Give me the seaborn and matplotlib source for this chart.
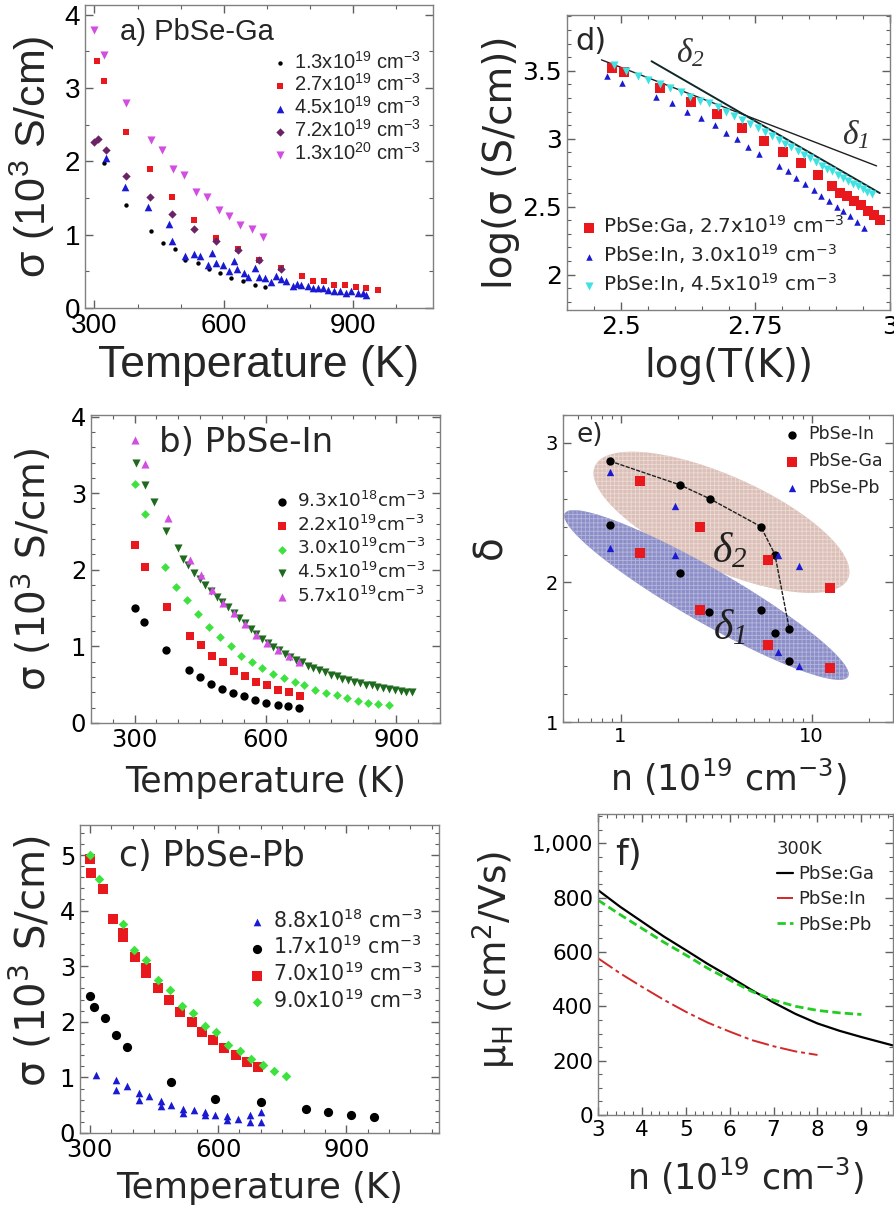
import numpy as np
import matplotlib
matplotlib.use("Agg")
import matplotlib.pyplot as plt
from matplotlib.ticker import MultipleLocator, FuncFormatter, LogLocator, NullFormatter
from matplotlib.lines import Line2D
import seaborn as sns

# ---------------- a) PbSe-Ga : sigma vs T
a_T1 = [322, 374, 432, 459, 486, 511, 540, 565, 592, 617, 644, 672, 696]
a_s1 = [1.97, 1.41, 1.05, 0.89, 0.80, 0.66, 0.62, 0.53, 0.48, 0.41, 0.37, 0.32, 0.29]
a_T2 = [305, 323, 374, 428, 480, 532, 583, 633, 683, 734, 782, 807, 832, 857, 882, 908, 931, 958]
a_s2 = [3.37, 3.09, 2.40, 1.89, 1.51, 1.20, 0.96, 0.80, 0.66, 0.55, 0.43, 0.37, 0.37, 0.32,
        0.31, 0.28, 0.27, 0.25]
a_T3 = [326, 372, 424, 473, 480, 511, 532, 546, 563, 572, 583, 598, 613, 624, 631, 648, 656,
        672, 683, 696, 710, 722, 734, 745, 761, 771, 780, 795, 807, 819, 830, 842, 857, 869,
        884, 895, 911, 923, 931]
a_s3 = [2.05, 1.65, 1.37, 1.14, 0.91, 0.71, 0.73, 0.71, 0.58, 0.75, 0.62, 0.59, 0.51, 0.64,
        0.53, 0.48, 0.42, 0.55, 0.42, 0.41, 0.35, 0.43, 0.39, 0.37, 0.30, 0.33, 0.32, 0.30,
        0.27, 0.27, 0.27, 0.24, 0.23, 0.23, 0.21, 0.23, 0.21, 0.21, 0.18]
a_T4 = [300, 308, 326, 374, 428, 480, 532, 583, 633, 683, 734]
a_s4 = [2.26, 2.31, 2.16, 1.80, 1.51, 1.28, 1.07, 0.91, 0.79, 0.66, 0.53]
a_T5 = [300, 323, 374, 432, 456, 482, 509, 536, 561, 588, 613, 638, 665, 691]
a_s5 = [3.79, 3.45, 2.79, 2.29, 2.16, 1.90, 1.81, 1.58, 1.51, 1.34, 1.26, 1.13, 1.07, 0.97]
a_labels = ["1.3x10$^{19}$ cm$^{-3}$", "2.7x10$^{19}$ cm$^{-3}$", "4.5x10$^{19}$ cm$^{-3}$",
            "7.2x10$^{19}$ cm$^{-3}$", "1.3x10$^{20}$ cm$^{-3}$"]

# ---------------- b) PbSe-In
b_T1 = [302, 321, 371, 424, 451, 476, 501, 526, 551, 577, 602, 628, 652, 677]
b_s1 = [1.50, 1.32, 0.95, 0.69, 0.60, 0.51, 0.44, 0.39, 0.35, 0.30, 0.26, 0.24, 0.22, 0.20]
b_T2 = [302, 323, 374, 428, 453, 478, 503, 528, 553, 579, 604, 629, 654, 679]
b_s2 = [2.32, 2.04, 1.51, 1.13, 1.02, 0.88, 0.80, 0.68, 0.61, 0.53, 0.49, 0.43, 0.40, 0.35]
b_T3 = [302, 323, 369, 394, 421, 445, 471, 496, 520, 543, 568, 593, 618, 643, 667, 689, 713,
        738, 763, 786, 811, 834, 859, 882]
b_s3 = [3.12, 2.73, 2.04, 1.78, 1.60, 1.42, 1.25, 1.12, 1.00, 0.88, 0.80, 0.72, 0.64, 0.59,
        0.53, 0.49, 0.43, 0.39, 0.36, 0.33, 0.29, 0.26, 0.25, 0.23]
b_T4 = [304, 324, 344, 373, 399, 411, 422, 436, 449, 462, 475, 488, 501, 514, 527, 540, 553,
        566, 579, 592, 605, 618, 631, 644, 657, 670, 683, 697, 710, 723, 736, 750, 763, 776,
        790, 803, 816, 830, 843, 856, 870, 883, 896, 910, 923, 935]
b_s4 = [3.39, 3.11, 2.88, 2.51, 2.28, 2.14, 2.06, 1.96, 1.88, 1.80, 1.72, 1.65, 1.58, 1.51,
        1.44, 1.37, 1.30, 1.23, 1.16, 1.10, 1.04, 0.99, 0.95, 0.90, 0.86, 0.82, 0.79, 0.75,
        0.72, 0.69, 0.66, 0.63, 0.61, 0.58, 0.56, 0.54, 0.52, 0.50, 0.49, 0.47, 0.46, 0.44,
        0.43, 0.42, 0.41, 0.40]
b_T5 = [302, 324, 377, 428, 453, 478, 503, 528, 553, 579, 604, 629, 654, 677]
b_s5 = [3.69, 3.38, 2.67, 2.13, 1.93, 1.74, 1.57, 1.43, 1.29, 1.15, 1.04, 0.95, 0.87, 0.80]
b_labels = ["9.3x10$^{18}$cm$^{-3}$", "2.2x10$^{19}$cm$^{-3}$", "3.0x10$^{19}$cm$^{-3}$",
            "4.5x10$^{19}$cm$^{-3}$", "5.7x10$^{19}$cm$^{-3}$"]

# ---------------- c) PbSe-Pb
c_T1 = [314, 361, 361, 388, 414, 414, 439, 466, 466, 491, 517, 517, 544, 570, 570, 594, 622,
        622, 647, 674, 674, 700, 700]
c_s1 = [1.04, 0.96, 0.78, 0.84, 0.72, 0.59, 0.67, 0.58, 0.48, 0.51, 0.44, 0.36, 0.41, 0.37,
        0.32, 0.32, 0.30, 0.24, 0.26, 0.32, 0.20, 0.38, 0.20]
c_T2 = [300, 310, 336, 361, 387, 489, 594, 701, 806, 857, 910, 964]
c_s2 = [2.47, 2.27, 2.06, 1.77, 1.55, 0.92, 0.62, 0.56, 0.44, 0.38, 0.33, 0.29]
c_T3 = [300, 302, 330, 355, 378, 378, 406, 432, 432, 460, 485, 511, 538, 563, 589, 615, 641,
        667, 693]
c_s3 = [4.92, 4.67, 4.38, 3.85, 3.59, 3.52, 3.17, 2.96, 2.87, 2.60, 2.39, 2.18, 2.00, 1.82,
        1.68, 1.52, 1.40, 1.28, 1.19]
c_T4 = [300, 322, 378, 404, 432, 460, 488, 515, 541, 569, 596, 624, 651, 678, 705, 731, 758]
c_s4 = [5.00, 4.57, 3.76, 3.29, 3.11, 2.75, 2.57, 2.29, 2.15, 1.93, 1.81, 1.58, 1.48, 1.34,
        1.23, 1.12, 1.02]
c_labels = ["8.8x10$^{18}$ cm$^{-3}$", "1.7x10$^{19}$ cm$^{-3}$", "7.0x10$^{19}$ cm$^{-3}$",
            "9.0x10$^{19}$ cm$^{-3}$"]

# ---------------- d) log-log
d_x_ga = [2.484, 2.506, 2.573, 2.630, 2.678, 2.725, 2.766, 2.801, 2.834, 2.866, 2.892, 2.908,
          2.921, 2.934, 2.946, 2.959, 2.970, 2.981]
d_y_ga = [3.52, 3.49, 3.37, 3.27, 3.18, 3.08, 2.98, 2.90, 2.82, 2.73, 2.65, 2.60, 2.58, 2.54,
          2.51, 2.47, 2.44, 2.40]
d_x_in30 = [2.475, 2.503, 2.566, 2.595, 2.623, 2.649, 2.674, 2.695, 2.715, 2.736, 2.756, 2.793,
            2.810, 2.826, 2.842, 2.858, 2.872, 2.886, 2.901, 2.913, 2.926, 2.939, 2.951]
d_y_in30 = [3.46, 3.41, 3.31, 3.26, 3.20, 3.15, 3.10, 3.04, 3.00, 2.94, 2.89, 2.80, 2.76, 2.71,
            2.67, 2.62, 2.58, 2.54, 2.50, 2.47, 2.43, 2.39, 2.34]
d_x_in45 = [2.487, 2.509, 2.531, 2.551, 2.572, 2.592, 2.611, 2.629, 2.647, 2.664, 2.680, 2.696,
            2.711, 2.726, 2.740, 2.754, 2.767, 2.780, 2.793, 2.805, 2.817, 2.829, 2.840, 2.851,
            2.862, 2.873, 2.883, 2.893, 2.903, 2.913, 2.922, 2.931, 2.940, 2.949, 2.957, 2.966]
d_y_in45 = [3.54, 3.50, 3.46, 3.43, 3.40, 3.37, 3.34, 3.31, 3.28, 3.26, 3.23, 3.20, 3.17, 3.14,
            3.11, 3.08, 3.05, 3.02, 2.99, 2.96, 2.94, 2.91, 2.88, 2.86, 2.83, 2.80, 2.78, 2.76,
            2.73, 2.71, 2.69, 2.67, 2.65, 2.63, 2.61, 2.59]
d_fit1_x = [2.464, 2.975]
d_fit1_y = [3.58, 2.80]
d_fit2_x = [2.557, 2.981]
d_fit2_y = [3.57, 2.60]
d_labels = ["PbSe:Ga, 2.7x10$^{19}$ cm$^{-3}$", "PbSe:In, 3.0x10$^{19}$ cm$^{-3}$",
            "PbSe:In, 4.5x10$^{19}$ cm$^{-3}$"]

# ---------------- e) delta vs n
e_in_n2 = [0.88, 2.04, 2.93, 5.43, 6.43, 7.64]
e_in_d2 = [2.87, 2.70, 2.60, 2.40, 2.20, 1.67]
e_in_n1 = [0.88, 2.04, 2.91, 5.43, 6.43, 7.64]
e_in_d1 = [2.41, 2.07, 1.79, 1.80, 1.64, 1.44]
e_ga_n = [1.26, 2.62, 5.93, 12.5, 1.26, 2.62, 5.93, 12.5]
e_ga_d = [2.73, 2.40, 2.16, 1.96, 2.21, 1.80, 1.55, 1.385]
e_pb_n = [0.88, 1.94, 6.68, 8.55, 0.88, 1.94, 6.68, 8.55]
e_pb_d = [2.79, 2.55, 2.20, 2.12, 2.25, 2.20, 1.50, 1.40]

# ---------------- f) mobility vs n at 300K
f_n_ga = [3, 3.5, 4, 4.5, 5, 5.5, 6, 6.5, 7, 7.5, 8, 8.5, 9, 9.72]
f_mu_ga = [828, 767, 712, 657, 607, 556, 509, 460, 414, 372, 337, 310, 287, 256]
f_n_in = [3, 3.5, 4, 4.5, 5, 5.5, 6, 6.5, 7, 7.5, 8]
f_mu_in = [577, 522, 472, 424, 380, 340, 307, 276, 253, 234, 221]
f_n_pb = [3, 3.5, 4, 4.5, 5, 5.5, 6, 6.5, 7, 7.5, 8, 8.5, 9]
f_mu_pb = [791, 738, 687, 636, 589, 540, 497, 455, 423, 400, 385, 376, 370]

RED = "#e8181c"
BLUE = "#1a1ad2"
MAG = "#d24ee2"
PURP = "#6c2266"
LGREEN = "#3ee23e"
DGREEN = "#1f6a1f"
CYAN = "#3fe2e2"

sns.set_theme(style="ticks")
plt.rcParams["font.family"] = ["DejaVu Sans"]
plt.rcParams["mathtext.default"] = "regular"
plt.rcParams["axes.linewidth"] = 1.0
plt.rcParams["axes.edgecolor"] = "#808080"
plt.rcParams["hatch.linewidth"] = 0.6

W, H = 894, 1209
fig = plt.figure(figsize=(W / 100, H / 100), dpi=100)


def box(l, t, r, b):
    return fig.add_axes([l / W, 1 - b / H, (r - l) / W, (b - t) / H])


def ticks(ax, xmaj, xmin, ymaj, ymin, size, family="DejaVu Sans"):
    if xmaj:
        ax.xaxis.set_major_locator(MultipleLocator(xmaj))
        ax.xaxis.set_minor_locator(MultipleLocator(xmin))
    ax.yaxis.set_major_locator(MultipleLocator(ymaj))
    ax.yaxis.set_minor_locator(MultipleLocator(ymin))
    ax.tick_params(which="both", direction="in", top=True, right=True, colors="#606060",
                   labelcolor="black", labelsize=size, labelfontfamily=family)
    ax.tick_params(which="major", length=6, width=1)
    ax.tick_params(which="minor", length=3, width=0.8)


def labels(ax, xl, yl, xs, ys, xy, yx, yy=0.5, family="DejaVu Sans"):
    ax.set_xlabel(xl, fontsize=xs, family=family)
    ax.set_ylabel(yl, fontsize=ys, family=family)
    ax.xaxis.set_label_coords(0.5, xy)
    ax.yaxis.set_label_coords(yx, yy)
    ax.xaxis.label.set_va("center")
    ax.yaxis.label.set_va("center")


g = FuncFormatter(lambda v, p: f"{v:g}")

# ======== a
ax = box(85, 5, 433, 308)
LIB = "Liberation Sans"
sns.scatterplot(x=a_T1, y=a_s1, marker="o", color="black", s=10, linewidth=0, label=a_labels[0], ax=ax)
sns.scatterplot(x=a_T2, y=a_s2, marker="s", color=RED, s=16, linewidth=0, label=a_labels[1], ax=ax)
sns.scatterplot(x=a_T3, y=a_s3, marker="^", color=BLUE, s=30, linewidth=0, label=a_labels[2], ax=ax)
sns.scatterplot(x=a_T4, y=a_s4, marker="D", color=PURP, s=18, linewidth=0, label=a_labels[3], ax=ax)
sns.scatterplot(x=a_T5, y=a_s5, marker="v", color=MAG, s=34, linewidth=0, label=a_labels[4], ax=ax)
ax.set_xlim(278, 1086)
ax.set_ylim(0, 4.13)
ticks(ax, 300, 100, 1, 0.5, 20, LIB)
labels(ax, "Temperature (K)", "σ (10$^3$ S/cm)", 32, 31, -0.19, -0.15, family=LIB)
ax.text(0.10, 0.91, "a) PbSe-Ga", transform=ax.transAxes, fontsize=21, family=LIB, va="center")
leg = ax.legend(loc="upper right", bbox_to_anchor=(1.0, 0.89), frameon=False, prop={"family": LIB, "size": 14.5},
                handletextpad=0.2, labelspacing=0.05, borderaxespad=0.2, handlelength=1.0, markerscale=1.0)

# ======== b
ax = box(91, 415, 440, 723)
sns.scatterplot(x=b_T1, y=b_s1, marker="o", color="black", s=36, linewidth=0, label=b_labels[0], ax=ax)
sns.scatterplot(x=b_T2, y=b_s2, marker="s", color=RED, s=40, linewidth=0, label=b_labels[1], ax=ax)
sns.scatterplot(x=b_T3, y=b_s3, marker="D", color=LGREEN, s=20, linewidth=0, label=b_labels[2], ax=ax)
sns.scatterplot(x=b_T4, y=b_s4, marker="v", color=DGREEN, s=34, linewidth=0, label=b_labels[3], ax=ax)
sns.scatterplot(x=b_T5, y=b_s5, marker="^", color=MAG, s=34, linewidth=0, label=b_labels[4], ax=ax)
ax.set_xlim(200, 1000)
ax.set_ylim(0, 4.02)
ticks(ax, 300, 50, 1, 0.2, 17.5)
labels(ax, "Temperature (K)", "σ (10$^3$ S/cm)", 25, 28, -0.19, -0.17)
ax.text(0.195, 0.91, "b) PbSe-In", transform=ax.transAxes, fontsize=24.5, va="center")
ax.legend(loc="upper right", bbox_to_anchor=(0.99, 0.79), frameon=False, fontsize=13.2,
          handletextpad=0.3, labelspacing=0.2, borderaxespad=0.2, handlelength=1.0)

# ======== c
ax = box(80, 825, 439, 1133)
sns.scatterplot(x=c_T1, y=c_s1, marker="^", color=BLUE, s=30, linewidth=0, label=c_labels[0], ax=ax)
sns.scatterplot(x=c_T2, y=c_s2, marker="o", color="black", s=44, linewidth=0, label=c_labels[1], ax=ax)
sns.scatterplot(x=c_T3, y=c_s3, marker="s", color=RED, s=60, linewidth=0, label=c_labels[2], ax=ax)
sns.scatterplot(x=c_T4, y=c_s4, marker="D", color=LGREEN, s=24, linewidth=0, label=c_labels[3], ax=ax)
ax.set_xlim(277, 1117)
ax.set_ylim(0, 5.54)
ticks(ax, 300, 50, 1, 0.2, 17.5)
labels(ax, "Temperature (K)", "σ (10$^3$ S/cm)", 25.5, 29, -0.18, -0.135, yy=0.56)
ax.text(0.11, 0.90, "c) PbSe-Pb", transform=ax.transAxes, fontsize=25, va="center")
ax.legend(loc="upper right", bbox_to_anchor=(0.99, 0.77), frameon=False, fontsize=14.8,
          handletextpad=0.3, labelspacing=0.15, borderaxespad=0.2, handlelength=1.0)

# ======== d
ax = box(567, 15, 890, 310)
sns.lineplot(x=d_fit1_x, y=d_fit1_y, color="#202020", lw=1.0, ax=ax)
sns.lineplot(x=d_fit2_x, y=d_fit2_y, color="#102828", lw=1.4, ax=ax)
sns.scatterplot(x=d_x_ga, y=d_y_ga, marker="s", color=RED, s=50, linewidth=0, label=d_labels[0], ax=ax, zorder=2)
sns.scatterplot(x=d_x_in30, y=d_y_in30, marker="^", color=BLUE, s=22, linewidth=0, label=d_labels[1], ax=ax, zorder=2)
sns.scatterplot(x=d_x_in45, y=d_y_in45, marker="v", color=CYAN, s=34, linewidth=0, label=d_labels[2], ax=ax, zorder=2)
ax.set_xlim(2.4, 3.0)
ax.set_ylim(1.74, 3.91)
ticks(ax, 0.25, 0.05, 0.5, 0.1, 18)
ax.xaxis.set_major_formatter(g)
ax.yaxis.set_major_formatter(g)
labels(ax, "log(T(K))", "log(σ (S/cm))", 28, 28, -0.19, -0.205)
ax.text(0.025, 0.91, "d)", transform=ax.transAxes, fontsize=22, va="center")
ax.text(2.63, 3.63, r"$\delta_2$", fontsize=24, family="Liberation Serif", style="italic",
        color="#303030", ha="center", va="center")
ax.text(2.935, 3.03, r"$\delta_1$", fontsize=24, family="Liberation Serif", style="italic",
        color="#303030", ha="center", va="center")
ax.legend(loc="lower left", bbox_to_anchor=(0.0, 0.01), frameon=False, fontsize=14.4,
          handletextpad=0.2, labelspacing=0.25, borderaxespad=0.2, handlelength=1.0)

# ======== e
ax = box(563, 415, 893, 722)
ax.set_xscale("log")
ax.set_xlim(0.5, 26.7)
ax.set_ylim(1, 3.2)


def ellipse(ax, cx, cy, a, b, ang, face, hatch_col):
    # geometry given in pixel units of the 3x zoom of the panel box (989 x 921)
    t = np.linspace(0, 2 * np.pi, 300)
    th = np.radians(ang)
    X = cx + a * np.cos(t) * np.cos(th) - b * np.sin(t) * np.sin(th)
    Y = cy + a * np.cos(t) * np.sin(th) + b * np.sin(t) * np.cos(th)
    ax.fill((X - 10) / 989, 1 - Y / 921, transform=ax.transAxes, facecolor=face,
            edgecolor=hatch_col, hatch="++++", lw=0, zorder=0)


ellipse(ax, 485, 322, 415, 140, 24, "#dcc0b8", "#eadad5")
ellipse(ax, 440, 540, 490, 80, 30, "#8c8ec8", "#b4b5dc")
sns.lineplot(x=e_in_n2, y=e_in_d2, color="#202020", lw=1.0, linestyle=(0, (3, 1)), ax=ax, zorder=2)
sns.scatterplot(x=e_in_n2 + e_in_n1, y=e_in_d2 + e_in_d1, marker="o", color="black", s=36,
                linewidth=0, label="PbSe-In", ax=ax, zorder=3)
sns.scatterplot(x=e_ga_n, y=e_ga_d, marker="s", color=RED, s=44, linewidth=0, label="PbSe-Ga", ax=ax, zorder=3)
sns.scatterplot(x=e_pb_n, y=e_pb_d, marker="^", color=BLUE, s=28, linewidth=0, label="PbSe-Pb", ax=ax, zorder=3)
ax.xaxis.set_major_locator(LogLocator(base=10))
ax.xaxis.set_minor_locator(LogLocator(base=10, subs=np.arange(2, 10)))
ax.xaxis.set_minor_formatter(NullFormatter())
ax.xaxis.set_major_formatter(g)
ticks(ax, None, None, 1, 0.2, 14)
labels(ax, "n (10$^{19}$ cm$^{-3}$)", "δ", 25, 28, -0.18, -0.22, yy=0.57)
ax.text(0.04, 0.935, "e)", transform=ax.transAxes, fontsize=19, va="center")
ax.text(0.506, 0.555, r"$\delta_2$", transform=ax.transAxes, fontsize=30, family="Liberation Serif",
        style="italic", color="#202020", ha="center", va="center", zorder=4)
ax.text(0.506, 0.305, r"$\delta_1$", transform=ax.transAxes, fontsize=30, family="Liberation Serif",
        style="italic", color="#202020", ha="center", va="center", zorder=4)
ax.legend(loc="upper right", bbox_to_anchor=(1.0, 1.0), frameon=False, fontsize=12.5,
          handletextpad=0.4, labelspacing=0.5, borderaxespad=0.2, handlelength=1.0)

# ======== f
ax = box(598, 814, 893, 1115)
sns.lineplot(x=f_n_ga, y=f_mu_ga, color="black", lw=1.6, label="PbSe:Ga", ax=ax)
sns.lineplot(x=f_n_in, y=f_mu_in, color="#d42828", lw=1.4, linestyle=(0, (9, 2, 2, 2)), label="PbSe:In", ax=ax)
sns.lineplot(x=f_n_pb, y=f_mu_pb, color="#22cc22", lw=2.0, linestyle=(0, (3, 1.5)), label="PbSe:Pb", ax=ax)
ax.set_xlim(3, 9.72)
ax.set_ylim(0, 1108)
ticks(ax, 1, 0.2, 200, 50, 15.5)
ax.yaxis.set_major_formatter(FuncFormatter(lambda v, p: f"{v:,.0f}"))
labels(ax, "n (10$^{19}$ cm$^{-3}$)", "μ$_H$ (cm$^2$/Vs)", 25, 27, -0.205, -0.35, yy=0.515)
ax.text(0.058, 0.864, "f)", transform=ax.transAxes, fontsize=26, va="center")
leg = ax.legend(loc="upper left", bbox_to_anchor=(0.57, 0.95), frameon=False, fontsize=13,
                title="300K", title_fontsize=13, handletextpad=0.3, labelspacing=0.4,
                borderaxespad=0.2, handlelength=0.9, alignment="left")

fig.savefig("out.png", dpi=100, facecolor="white")
